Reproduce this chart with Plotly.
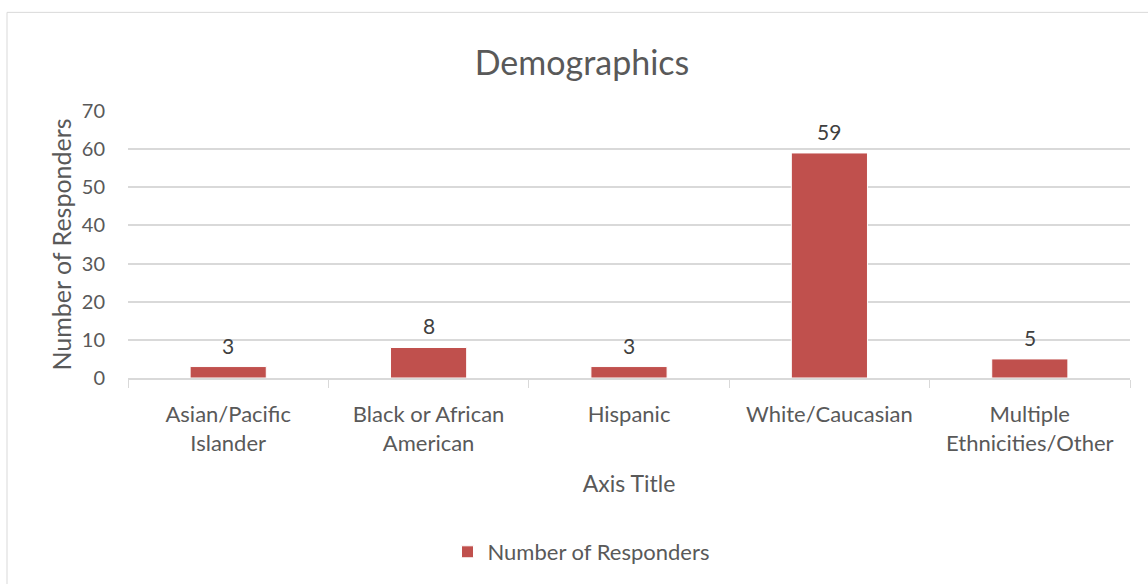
import plotly.graph_objects as go

categories = ["Asian/Pacific<br>Islander", "Black or African<br>American", "Hispanic",
              "White/Caucasian", "Multiple<br>Ethnicities/Other"]
values = [3, 8, 3, 59, 5]
series_name = "Number of Responders"

W, H = 1148, 584
L, R, T, B = 128, 18, 111, 205
pw, ph = W - L - R, H - T - B

def px_x(p):
    return (p - L) / pw

def px_y(p):
    return (H - B - p) / ph

font_family = "Lato, 'Open Sans', sans-serif"
txt = "#595959"
bar_color = "#C0504D"

fig = go.Figure()
fig.add_trace(go.Bar(
    x=categories, y=values, name=series_name,
    marker=dict(color=bar_color, line=dict(color="white", width=1)),
    width=0.38, showlegend=True,
))

for c, v in zip(categories, values):
    fig.add_annotation(x=c, y=v, text=str(v), showarrow=False, yanchor="bottom",
                       yshift=7, font=dict(size=21, color="#404040", family=font_family))

fig.add_shape(type="rect", xref="paper", yref="paper",
              x0=px_x(7), x1=px_x(1160), y0=px_y(600), y1=px_y(12),
              line=dict(color="#D9D9D9", width=1), layer="below")

fig.update_layout(
    width=W, height=H,
    margin=dict(l=L, r=R, t=T, b=B),
    paper_bgcolor="white", plot_bgcolor="white",
    font=dict(family=font_family, color=txt, size=18),
    title=dict(text="Demographics", x=582 / W, xanchor="center",
               y=1 - 63 / H, yanchor="middle",
               font=dict(size=34, color=txt, family=font_family)),
    bargap=0.62,
    legend=dict(orientation="h", x=px_x(581), xanchor="center", y=px_y(552), yanchor="middle",
                font=dict(size=22, color=txt), itemwidth=30),
    xaxis=dict(
        type="category", tickson="boundaries", ticks="outside", ticklen=8,
        tickcolor="#D9D9D9", showline=True, linecolor="#D9D9D9", linewidth=2,
        showgrid=False, tickfont=dict(size=22, color=txt), ticklabelstandoff=16,
        title=dict(text="Axis Title", font=dict(size=23, color=txt), standoff=21),
    ),
    yaxis=dict(
        range=[0, 70], dtick=10, showgrid=True, gridcolor="#D9D9D9", gridwidth=2,
        zeroline=False, showline=False, ticks="", tickfont=dict(size=20, color=txt),
        ticklabelstandoff=22,
        title=dict(text="Number of Responders", font=dict(size=25, color=txt), standoff=3),
    ),
)

fig.write_html("out.html")
